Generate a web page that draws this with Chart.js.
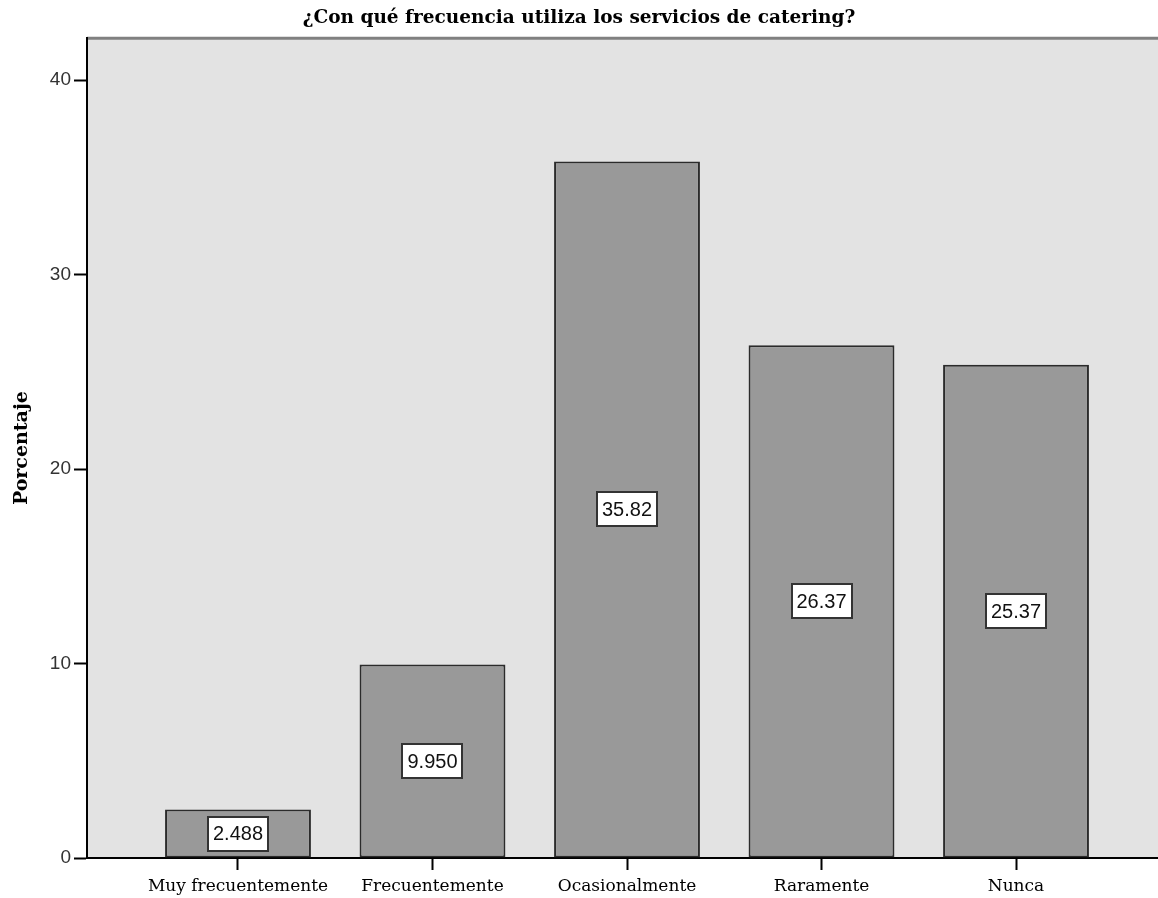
<!DOCTYPE html>
<html>
<head>
<meta charset="utf-8">
<script src="https://cdn.jsdelivr.net/npm/chart.js@4"></script>
<style>
  body { margin: 0; background: #fff; }
</style>
</head>
<body>
<canvas id="chart" width="1158" height="898"></canvas>
<script>
const categories = ["Muy frecuentemente", "Frecuentemente", "Ocasionalmente", "Raramente", "Nunca"];
const percentages = [2.488, 9.950, 35.82, 26.37, 25.37];
const yTicks = [0, 10, 20, 30, 40];
const categoryPositions = [1, 2, 3, 4, 5];

const serif = "'DejaVu Serif', serif";
const sans = "'Liberation Sans', Arial, sans-serif";

// grey plot panel with the heavier top rule
const plotFrame = {
  id: "plotFrame",
  beforeDraw(chart) {
    const { ctx, chartArea: a } = chart;
    ctx.save();
    ctx.fillStyle = "#e3e3e3";
    ctx.fillRect(a.left, a.top, a.right - a.left, a.bottom - a.top);
    ctx.strokeStyle = "#808080";
    ctx.lineWidth = 3;
    ctx.beginPath();
    ctx.moveTo(a.left, a.top);
    ctx.lineTo(a.right, a.top);
    ctx.stroke();
    ctx.restore();
  }
};

// boxed value label in the middle of each bar
const valueBoxes = {
  id: "valueBoxes",
  afterDatasetsDraw(chart) {
    const { ctx } = chart;
    const meta = chart.getDatasetMeta(0);
    ctx.save();
    ctx.font = "20px " + sans;
    ctx.textAlign = "center";
    ctx.textBaseline = "middle";
    meta.data.forEach((bar, i) => {
      const text = percentages[i].toPrecision(4);
      const cy = (bar.y + bar.base) / 2;
      const w = Math.round(ctx.measureText(text).width + 10);
      const h = 34;
      const x0 = Math.round(bar.x - w / 2), y0 = Math.round(cy - h / 2);
      ctx.fillStyle = "#fff";
      ctx.fillRect(x0, y0, w, h);
      ctx.strokeStyle = "#333";
      ctx.lineWidth = 2;
      ctx.strokeRect(x0, y0, w, h);
      ctx.fillStyle = "#111";
      ctx.fillText(text, bar.x, cy + 1);
    });
    ctx.restore();
  }
};

new Chart(document.getElementById("chart"), {
  type: "bar",
  data: {
    datasets: [{
      data: categoryPositions.map((x, i) => ({ x, y: percentages[i] })),
      backgroundColor: "#999999",
      borderColor: "#2b2b2b",
      borderWidth: 2,
      borderSkipped: false,
      categoryPercentage: 1,
      barPercentage: 0.75,
    }],
  },
  options: {
    responsive: false,
    animation: false,
    events: [],
    layout: { padding: 0 },
    plugins: {
      legend: { display: false },
      tooltip: { enabled: false },
      title: {
        display: true,
        text: "¿Con qué frecuencia utiliza los servicios de catering?",
        color: "#000",
        font: { family: serif, size: 18.5, weight: "bold" },
        padding: { top: 7, bottom: 9 },
      },
    },
    scales: {
      x: {
        type: "linear",
        position: "bottom",
        min: 0.2237,
        max: 5.73,
        offset: false,
        afterBuildTicks: (scale) => {
          scale.ticks = categoryPositions.map((v) => ({ value: v }));
        },
        afterFit: (scale) => { scale.height = 40; },
        ticks: {
          autoSkip: false,
          maxRotation: 0,
          padding: 6,
          color: "#000",
          font: { family: serif, size: 17 },
          callback: (v) => categories[v - 1],
        },
        grid: {
          offset: false,
          drawOnChartArea: false,
          drawTicks: true,
          tickLength: 12,
          tickColor: "#000",
          tickWidth: 2,
        },
        border: { display: true, color: "#000", width: 2 },
      },
      y: {
        min: 0,
        max: 42.16,
        afterBuildTicks: (scale) => {
          scale.ticks = yTicks.map((v) => ({ value: v }));
        },
        afterFit: (scale) => { scale.width = 87; },
        ticks: {
          padding: 3,
          color: "#333",
          font: { family: sans, size: 19 },
        },
        grid: {
          drawOnChartArea: false,
          drawTicks: true,
          tickLength: 13,
          tickColor: "#000",
          tickWidth: 2,
        },
        border: { display: true, color: "#000", width: 2 },
        title: {
          display: true,
          text: "Porcentaje",
          color: "#000",
          font: { family: serif, size: 19, weight: "bold" },
          padding: { top: 11, bottom: 0 },
        },
      },
    },
  },
  plugins: [plotFrame, valueBoxes],
});
</script>
</body>
</html>
